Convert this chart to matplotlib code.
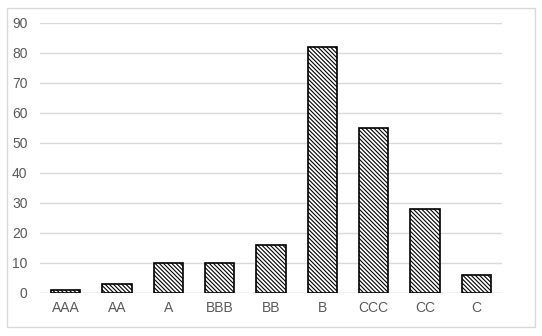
import matplotlib
matplotlib.use("Agg")
import matplotlib.pyplot as plt
from matplotlib.patches import Rectangle

categories = ["AAA", "AA", "A", "BBB", "BB", "B", "CCC", "CC", "C"]
values = [1, 3, 10, 10, 16, 82, 55, 28, 6]
yticks = [0, 10, 20, 30, 40, 50, 60, 70, 80, 90]

plt.rcParams['font.family'] = ['Liberation Sans', 'DejaVu Sans']
plt.rcParams['hatch.linewidth'] = 0.8
plt.rcParams['hatch.color'] = 'black'

W, H = 542, 336
fig = plt.figure(figsize=(W / 100, H / 100), dpi=100)
fig.patch.set_facecolor('white')
ax = fig.add_axes([40 / W, 43 / H, 462 / W, 270 / H])

x = list(range(len(categories)))
ax.bar(x, values, width=0.57, facecolor='white', edgecolor='black',
       linewidth=1.2, hatch='\\' * 8, zorder=3)

ax.set_xlim(-0.5, len(categories) - 0.5)
ax.set_ylim(0, 90)
ax.set_yticks(yticks)
ax.set_xticks(x)
ax.set_xticklabels(categories)
ax.grid(axis='y', color='#d9d9d9', linewidth=1, zorder=0)
for s in ax.spines.values():
    s.set_visible(False)
ax.axhline(0, color='#d9d9d9', linewidth=1, zorder=1)
ax.tick_params(axis='both', length=0, labelsize=10, colors='#595959')
ax.tick_params(axis='y', pad=9)
ax.tick_params(axis='x', pad=6)

fig.patches.append(Rectangle((7 / W, (H - 327) / H), 528 / W, 319 / H,
                             transform=fig.transFigure, fill=False,
                             edgecolor='#d9d9d9', linewidth=1))

fig.savefig("out.png", dpi=100)
